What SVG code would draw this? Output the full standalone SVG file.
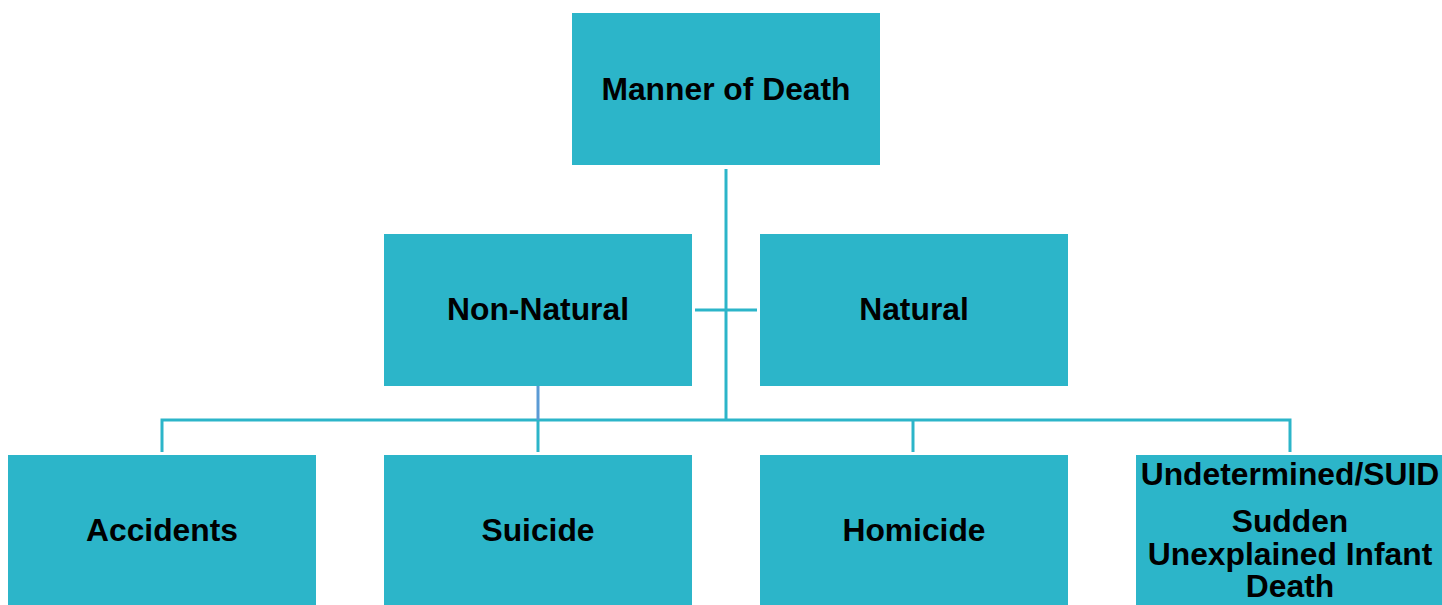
<svg xmlns="http://www.w3.org/2000/svg" width="1442" height="605" viewBox="0 0 1442 605">
<style>
.box{fill:#2cb5c9}
.t{font-family:"Liberation Sans",Arial,sans-serif;font-weight:bold;font-size:31.8px;fill:#000;text-anchor:middle}
.c{stroke:#2cb5c9;stroke-width:3;fill:none}
</style>
<rect width="1442" height="605" fill="#fff"/>
<g id="connectors">
<line class="c" x1="726" y1="169" x2="726" y2="421"/>
<line class="c" x1="695" y1="310" x2="757" y2="310"/>
<polyline class="c" points="162,452 162,420 1290,420 1290,452"/>
<line x1="538" y1="386" x2="538" y2="420" stroke="#5b9bd5" stroke-width="3"/>
<line class="c" x1="538" y1="420" x2="538" y2="452"/>
<line class="c" x1="913" y1="420" x2="913" y2="452"/>
</g>
<g id="manner"><rect class="box" x="572" y="13" width="308" height="152"/><text class="t" x="726" y="100">Manner of Death</text></g>
<g id="nonnatural"><rect class="box" x="384" y="234" width="308" height="152"/><text class="t" x="538" y="320">Non-Natural</text></g>
<g id="natural"><rect class="box" x="760" y="234" width="308" height="152"/><text class="t" x="914" y="320">Natural</text></g>
<g id="accidents"><rect class="box" x="8" y="455" width="308" height="150"/><text class="t" x="162" y="541">Accidents</text></g>
<g id="suicide"><rect class="box" x="384" y="455" width="308" height="150"/><text class="t" x="538" y="541">Suicide</text></g>
<g id="homicide"><rect class="box" x="760" y="455" width="308" height="150"/><text class="t" x="914" y="541">Homicide</text></g>
<g id="undetermined"><rect class="box" x="1136" y="455" width="306" height="150"/>
<text class="t" x="1290" y="485">Undetermined/SUID</text>
<text class="t" x="1290" y="532">Sudden</text>
<text class="t" x="1290" y="565">Unexplained Infant</text>
<text class="t" x="1290" y="597">Death</text>
</g>
</svg>
